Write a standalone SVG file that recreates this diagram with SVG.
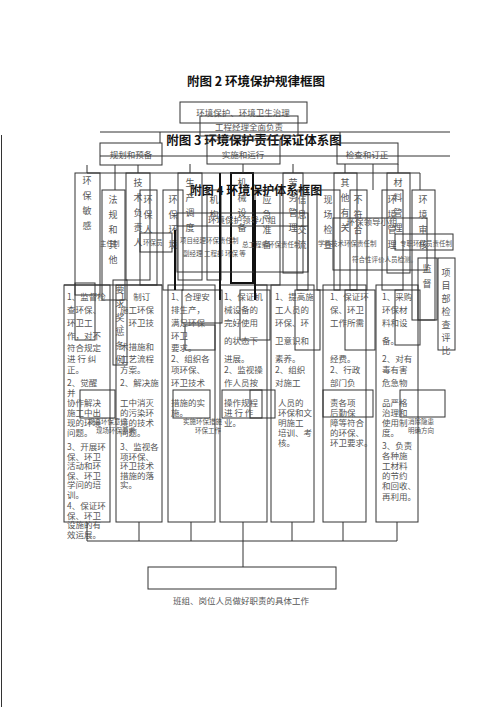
<svg xmlns="http://www.w3.org/2000/svg" width="500" height="707" viewBox="0 0 500 707">
<style>
.t{font-family:"Noto Sans CJK SC","Liberation Serif",sans-serif;fill:#555}
.ti{font-family:"Noto Sans CJK SC",sans-serif;font-weight:bold;fill:#111;text-anchor:middle}
.b{fill:none;stroke:#333;stroke-width:1}
.bt{fill:none;stroke:#111;stroke-width:2}
.l{stroke:#333;stroke-width:1;fill:none}
.v{writing-mode:vertical-rl;font-size:9px;letter-spacing:6px}
.s{font-size:8.5px}
.xs{font-size:6.5px}
.m{text-anchor:middle}
</style>
<rect width="500" height="707" fill="#fff"/>
<line class="l" x1="1.5" y1="135" x2="1.5" y2="707" stroke="#999"/>

<g id="titles">
<text class="ti" x="256" y="86" font-size="12.5">附图 2 环境保护规律框图</text>
<text class="ti" x="254" y="145" font-size="12.5">附图 3 环境保护责任保证体系图</text>
<text class="ti" x="256" y="195" font-size="12">附图 4 环境保护体系框图</text>
</g>

<g id="fig2">
<g id="n-top1"><rect class="b" x="180" y="102" width="127" height="21"/><text class="t s m" x="243" y="116">环境保护、环境卫生治理</text></g>
<g id="n-top2"><rect class="b" x="200" y="116" width="98" height="20"/><text class="t s m" x="249" y="130">工程经理全面负责</text></g>
</g>

<g id="fig3">
<g id="n-plan"><rect class="b" x="100" y="143" width="62" height="22"/><text class="t s m" x="131" y="158">规划和预备</text></g>
<g id="n-run"><rect class="b" x="207" y="140" width="73" height="24"/><text class="t s m" x="243" y="158">实施和运行</text></g>
<g id="n-check"><rect class="b" x="337" y="143" width="61" height="21"/><text class="t s m" x="367" y="158">检查和订正</text></g>

<g id="n-a1"><rect class="b" x="75" y="173" width="25" height="122"/><text class="t v" x="87" y="176">环保敏感</text></g>
<g id="n-a2"><rect class="b" x="126" y="173" width="24" height="107"/><text class="t v" x="138" y="178">技术负责人</text></g>
<g id="n-a3"><rect class="b" x="178" y="173" width="24" height="107"/><text class="t v" x="190" y="178">生产调度</text></g>
<g id="n-a4"><rect class="bt" x="231" y="173" width="22" height="110"/><text class="t v" x="242" y="178">机械设备</text></g>
<g id="n-a5"><rect class="b" x="283" y="173" width="20" height="100"/><text class="t v" x="293" y="178">劳务管理</text></g>
<g id="n-a6"><rect class="b" x="334" y="173" width="23" height="117"/><text class="t v" x="345" y="178">其他有关</text></g>
<g id="n-a7"><rect class="b" x="387" y="173" width="23" height="100"/><text class="t v" x="398" y="178">材料管理</text></g>

<g id="n-b1"><rect class="b" x="102" y="190" width="23" height="110"/><text class="t v" x="113" y="195">法规和其他</text></g>
<g id="n-b2"><rect class="b" x="140" y="190" width="17" height="95"/><text class="t v" x="148" y="195">环保人</text></g>
<g id="n-b3"><rect class="b" x="163" y="190" width="20" height="100"/><text class="t v" x="173" y="195">环保环境</text></g>
<g id="n-b4"><rect class="b" x="207" y="190" width="14" height="90"/><text class="t v" x="214" y="195">机构</text></g>
<g id="n-b5"><rect class="b" x="255" y="190" width="25" height="95"/><text class="t v" x="267" y="195">应急准备</text></g>
<g id="n-b6"><rect class="b" x="297" y="190" width="11" height="100"/><text class="t v" x="302" y="195">信息交流</text></g>
<g id="n-b7"><rect class="b" x="317" y="190" width="23" height="100"/><text class="t v" x="328" y="195">现场检查</text></g>
<g id="n-b8"><rect class="b" x="350" y="190" width="17" height="100"/><text class="t v" x="358" y="195">不符合</text></g>
<g id="n-b9"><rect class="b" x="382" y="190" width="21" height="100"/><text class="t v" x="392" y="195">环境管理</text></g>
<g id="n-b10"><rect class="b" x="412" y="190" width="23" height="130"/><text class="t v" x="423" y="195">环境审核</text></g>
<g id="n-b11"><rect class="b" x="438" y="258" width="17" height="92"/><text class="t v" x="446" y="268" style="letter-spacing:4px">项目部检查评比</text></g>
<g id="n-b12"><rect class="b" x="418" y="258" width="19" height="62"/><text class="t v" x="427" y="264">监督</text></g>
<g id="n-b13"><rect class="b" x="113" y="280" width="14" height="85"/><text class="t v" x="120" y="285" style="letter-spacing:5px">要求奖惩条例</text></g>
</g>

<g id="fig4">
<g id="n-lead"><rect class="b" x="177" y="213" width="131" height="59"/><text class="t s m" x="242" y="223">环境保护领导小组</text></g>
<line class="l" x1="177" y1="226" x2="308" y2="226"/>
<g id="n-lead2"><rect class="b" x="333" y="218" width="94" height="52"/><text class="t s m" x="372" y="225">环保领导小组</text></g>
<g id="n-hbay"><rect class="b" x="140" y="233" width="32" height="19"/><text class="t xs" x="143" y="245">环保员</text></g>
<rect class="b" x="395" y="234" width="58" height="16"/>
<text class="t xs" x="100" y="246">主任制</text>
<text class="t xs" x="180" y="243">项目经理环保责任制</text>
<text class="t xs" x="242" y="247">总工程师环保责任制</text>
<text class="t xs" x="318" y="246">学科技术环保责任制</text>
<text class="t xs" x="400" y="246">专职环保员责任制</text>
<text class="t xs" x="183" y="256">副经理  工程部  环保  等</text>
<text class="t xs" x="352" y="262">符合性评价人员检测。</text>
<rect class="b" x="75" y="283" width="20" height="57"/>
<rect class="b" x="182" y="290" width="40" height="33"/>
<rect class="b" x="185" y="325" width="30" height="25"/>
<rect class="b" x="240" y="290" width="30" height="50"/>
<rect class="b" x="295" y="290" width="25" height="60"/>
<rect class="b" x="345" y="290" width="30" height="60"/>
<rect class="b" x="395" y="290" width="25" height="55"/>
<rect class="b" x="80" y="390" width="35" height="28"/>
<rect class="b" x="173" y="390" width="37" height="28"/>
<rect class="b" x="222" y="390" width="40" height="28"/>
<rect class="b" x="250" y="390" width="25" height="28"/>
<rect class="b" x="323" y="390" width="50" height="27"/>
<rect class="b" x="400" y="390" width="45" height="27"/>
<text class="t xs" x="88" y="424">提高环保意识</text>
<text class="t xs" x="96" y="433">现场环保要求</text>
<text class="t xs" x="183" y="424">实施环保措施</text>
<text class="t xs" x="195" y="433">环保工作</text>
<text class="t xs" x="408" y="424">消除隐患</text>
<text class="t xs" x="408" y="433">明确方向</text>
</g>

<g id="cols">
<g id="n-c1"><rect class="b" x="64" y="285" width="46" height="237"/>
<text class="t s"><tspan x="67" y="300">1、监督检</tspan><tspan x="67" y="313">查环保、</tspan><tspan x="67" y="326">环卫工</tspan><tspan x="67" y="339">作，对不</tspan><tspan x="67" y="351">符合规定</tspan><tspan x="67" y="362">进 行 纠</tspan><tspan x="67" y="373">正。</tspan><tspan x="67" y="386">2、觉醒</tspan><tspan x="67" y="396">并</tspan><tspan x="67" y="406">协作解决</tspan><tspan x="67" y="416">施工中出</tspan><tspan x="67" y="426">现的环境</tspan><tspan x="67" y="436">问题。</tspan><tspan x="67" y="450">3、开展环</tspan><tspan x="67" y="459.5">保、环卫</tspan><tspan x="67" y="469">活动和环</tspan><tspan x="67" y="478.5">保、环卫</tspan><tspan x="67" y="488">学问的培</tspan><tspan x="67" y="497.5">训。</tspan><tspan x="67" y="509">4、保证环</tspan><tspan x="67" y="518.5">保、环卫</tspan><tspan x="67" y="528">设施的有</tspan><tspan x="67" y="537.5">效运展。</tspan></text></g>
<g id="n-c2"><rect class="b" x="116" y="285" width="46" height="237"/>
<text class="t s"><tspan x="120" y="300">1、制订</tspan><tspan x="120" y="313">施工环保</tspan><tspan x="120" y="326">、环卫技</tspan><tspan x="120" y="350">术措施和</tspan><tspan x="120" y="362">工艺流程</tspan><tspan x="120" y="373">方案。</tspan><tspan x="120" y="386">2、解决施</tspan><tspan x="120" y="406">工中消灭</tspan><tspan x="120" y="416">的污染环</tspan><tspan x="120" y="426">境的技术</tspan><tspan x="120" y="436">问题。</tspan><tspan x="120" y="450">3、监视各</tspan><tspan x="120" y="459.5">项环保、</tspan><tspan x="120" y="469">环卫技术</tspan><tspan x="120" y="478.5">措施的落</tspan><tspan x="120" y="488">实。</tspan></text></g>
<g id="n-c3"><rect class="b" x="168" y="285" width="47" height="237"/>
<text class="t s"><tspan x="171" y="300">1、合理安</tspan><tspan x="171" y="313">排生产，</tspan><tspan x="171" y="326">满足环保</tspan><tspan x="171" y="339">环卫</tspan><tspan x="171" y="351">要求。</tspan><tspan x="171" y="362">2、组织各</tspan><tspan x="171" y="373">项环保、</tspan><tspan x="171" y="386">环卫技术</tspan><tspan x="171" y="406">措施的实</tspan><tspan x="171" y="416">施。</tspan></text></g>
<g id="n-c4"><rect class="b" x="220" y="285" width="47" height="237"/>
<text class="t s"><tspan x="224" y="300">1、保证机</tspan><tspan x="224" y="313">械设备的</tspan><tspan x="224" y="326">完好使用</tspan><tspan x="224" y="344">的状态下</tspan><tspan x="224" y="362">进展。</tspan><tspan x="224" y="373">2、监视操</tspan><tspan x="224" y="386">作人员按</tspan><tspan x="224" y="406">操作规程</tspan><tspan x="224" y="416">进 行 作</tspan><tspan x="224" y="426">业。</tspan></text></g>
<g id="n-c5"><rect class="b" x="271" y="285" width="43" height="237"/>
<text class="t s"><tspan x="275" y="300">1、提高施</tspan><tspan x="275" y="313">工人员的</tspan><tspan x="275" y="326">环保、环</tspan><tspan x="275" y="344">卫意识和</tspan><tspan x="275" y="362">素养。</tspan><tspan x="275" y="373">2、组织</tspan><tspan x="275" y="386">对施工</tspan><tspan x="278" y="406">人员的</tspan><tspan x="278" y="416">环保和文</tspan><tspan x="278" y="426">明施工</tspan><tspan x="278" y="436">培训、考</tspan><tspan x="278" y="446">核。</tspan></text></g>
<g id="n-c6"><rect class="b" x="323" y="285" width="43" height="237"/>
<text class="t s"><tspan x="330" y="300">1、保证环</tspan><tspan x="330" y="313">保、环卫</tspan><tspan x="330" y="326">工作所需</tspan><tspan x="330" y="362">经费。</tspan><tspan x="330" y="373">2、行政</tspan><tspan x="330" y="386">部门负</tspan><tspan x="330" y="406">责各项</tspan><tspan x="330" y="416">后勤保</tspan><tspan x="330" y="426">障等符合</tspan><tspan x="330" y="436">的环保、</tspan><tspan x="330" y="446">环卫要求。</tspan></text></g>
<g id="n-c7"><rect class="b" x="376" y="285" width="42" height="237"/>
<text class="t s"><tspan x="382" y="300">1、采购</tspan><tspan x="382" y="313">环保材</tspan><tspan x="382" y="326">料和设</tspan><tspan x="382" y="344">备。</tspan><tspan x="382" y="362">2、对有</tspan><tspan x="382" y="373">毒有害</tspan><tspan x="382" y="386">危急物</tspan><tspan x="382" y="406">品严格</tspan><tspan x="382" y="416">治理和</tspan><tspan x="382" y="426">使用制</tspan><tspan x="382" y="436">度。</tspan><tspan x="382" y="449">3、负责</tspan><tspan x="382" y="459">各种施</tspan><tspan x="382" y="469">工材料</tspan><tspan x="382" y="479">的节约</tspan><tspan x="382" y="489">和回收、</tspan><tspan x="382" y="500">再利用。</tspan></text></g>
</g>

<g id="n-bottom"><rect class="b" x="148" y="567" width="188" height="22"/></g>
<text class="t s m" x="241" y="604">班组、岗位人员做好职责的具体工作</text>

<g id="connectors" class="l">
<line x1="100" y1="132" x2="450" y2="132"/>
<line x1="243" y1="136" x2="243" y2="140"/>
<line x1="160" y1="132" x2="160" y2="143"/>
<line x1="340" y1="132" x2="340" y2="143"/>
<line x1="100" y1="156" x2="450" y2="156"/>
<line x1="87" y1="173" x2="420" y2="173"/>
<line x1="115" y1="165" x2="115" y2="190"/>
<line x1="138" y1="165" x2="138" y2="173"/>
<line x1="190" y1="164" x2="190" y2="173"/>
<line x1="243" y1="164" x2="243" y2="173"/>
<line x1="293" y1="164" x2="293" y2="173"/>
<line x1="345" y1="164" x2="345" y2="173"/>
<line x1="373" y1="164" x2="373" y2="190"/>
<line x1="398" y1="164" x2="398" y2="173"/>
<line x1="420" y1="173" x2="420" y2="190"/>
<line x1="87" y1="165" x2="87" y2="173"/>
<line x1="220" y1="173" x2="220" y2="300" stroke-width="2" stroke="#111"/>
<line x1="255" y1="200" x2="255" y2="300" stroke-width="2" stroke="#111"/>
<line x1="175" y1="230" x2="175" y2="290" stroke-width="2" stroke="#111"/>
<line x1="64" y1="285" x2="162" y2="285"/>
<line x1="87" y1="522" x2="87" y2="541"/>
<line x1="139" y1="522" x2="139" y2="541"/>
<line x1="191" y1="522" x2="191" y2="541"/>
<line x1="243" y1="522" x2="243" y2="567"/>
<line x1="292" y1="522" x2="292" y2="541"/>
<line x1="343" y1="522" x2="343" y2="541"/>
<line x1="397" y1="522" x2="397" y2="541"/>
<line x1="87" y1="541" x2="397" y2="541"/>
</g>
</svg>
